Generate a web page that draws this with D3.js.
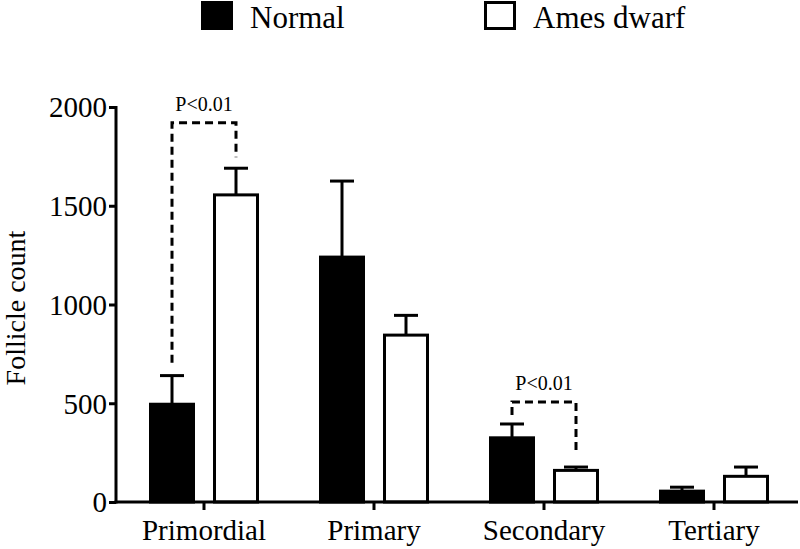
<!DOCTYPE html>
<html><head><meta charset="utf-8">
<script src="https://cdn.jsdelivr.net/npm/d3@7"></script>
<style>body{margin:0;background:#fff}svg{display:block}svg text{font-family:'Liberation Serif','Times New Roman',Times,'DejaVu Serif',serif !important;fill:#000}</style>
</head><body><svg id="c" width="800" height="549"></svg>
<script>
const categories = ["Primordial","Primary","Secondary","Tertiary"];
const series = ["Normal","Ames dwarf"];
const normalMean = [495, 1240, 325, 55];
const normalErr = [145, 385, 70, 20];
const amesMean = [1555, 845, 160, 130];
const amesErr = [135, 100, 17, 47];
const yTicks = [0, 500, 1000, 1500, 2000];
// significance brackets: category, top value, left leg end, right leg end
const brackets = [
  {cat:"Primordial", top:1920, left:705, right:1745, label:"P<0.01"},
  {cat:"Secondary", top:506, left:440, right:258, label:"P<0.01"}
];

const FONT = "'Liberation Serif','Times New Roman',Times,serif";
const svg = d3.select("#c");
const y = d3.scaleLinear().domain([0,2000]).range([502,107]);
const x = d3.scaleBand().domain(categories).range([119,799]).padding(0);
const xi = d3.scaleBand().domain(series).range([x.bandwidth()/2-53.5, x.bandwidth()/2+53.5]).paddingInner(21/64).paddingOuter(0);
const fills = {"Normal":"#000","Ames dwarf":"#fff"};
const means = {"Normal":normalMean,"Ames dwarf":amesMean};
const errs = {"Normal":normalErr,"Ames dwarf":amesErr};

const g = svg.append("g");
series.forEach(s=>{
  categories.forEach((c,i)=>{
    const cx = x(c)+xi(s);
    const bw = xi.bandwidth();
    const m = means[s][i], e = errs[s][i];
    g.append("line").attr("x1",cx+bw/2).attr("x2",cx+bw/2).attr("y1",y(m)).attr("y2",y(m+e)).attr("stroke","#000").attr("stroke-width",3);
    g.append("line").attr("x1",cx+bw/2-12).attr("x2",cx+bw/2+12).attr("y1",y(m+e)).attr("y2",y(m+e)).attr("stroke","#000").attr("stroke-width",3);
    g.append("rect").attr("x",cx).attr("y",y(m)).attr("width",bw).attr("height",y(0)-y(m))
      .attr("fill",fills[s]).attr("stroke","#000").attr("stroke-width",3);
  });
});

brackets.forEach(b=>{
  const lx = x(b.cat)+xi("Normal")+xi.bandwidth()/2;
  const rx = x(b.cat)+xi("Ames dwarf")+xi.bandwidth()/2;
  svg.append("path").attr("d",`M${lx},${y(b.left)}V${y(b.top)}H${rx}V${y(b.right)}`)
    .attr("fill","none").attr("stroke","#000").attr("stroke-width",3).attr("stroke-dasharray","8,5");
  svg.append("text").attr("x",(lx+rx)/2).attr("y",y(b.top)-12).attr("text-anchor","middle")
    .style("font-family",FONT).style("font-size","20px").text(b.label);
});

const ya = svg.append("g").attr("transform","translate(116,0)")
  .call(d3.axisLeft(y).tickValues(yTicks).tickFormat(d3.format("d")).tickSize(7).tickPadding(2).tickSizeOuter(0));
ya.attr("font-family",null).attr("font-size",null);
ya.select(".domain").attr("stroke-width",3).attr("d",`M0,${y(0)+1.5}V${y(2000)-1}`);
ya.selectAll(".tick line").attr("stroke-width",3);
ya.selectAll(".tick text").style("font-family",FONT).style("font-size","29px").attr("dy","0.34em");

const xa = svg.append("g").attr("transform",`translate(0,${y(0)})`)
  .call(d3.axisBottom(x).tickSize(8).tickPadding(9).tickSizeOuter(0));
xa.attr("font-family",null).attr("font-size",null);
xa.select(".domain").attr("stroke-width",3).attr("d","M114.5,0H798");
xa.selectAll(".tick line").attr("stroke-width",3);
xa.selectAll(".tick text").style("font-family",FONT).style("font-size","29px").attr("dy","0.71em");

svg.append("text").attr("transform","translate(25,308) rotate(-90)").attr("text-anchor","middle")
  .style("font-family",FONT).style("font-size","28px").text("Follicle count");

const leg = [{s:"Normal",x:201},{s:"Ames dwarf",x:484}];
leg.forEach(l=>{
  svg.append("rect").attr("x",l.x+1.5).attr("y",2.5).attr("width",29).attr("height",26)
    .attr("fill",fills[l.s]).attr("stroke","#000").attr("stroke-width",3);
  svg.append("text").attr("x",l.x+49).attr("y",28).style("font-family",FONT).style("font-size","31px").text(l.s);
});
</script></body></html>
